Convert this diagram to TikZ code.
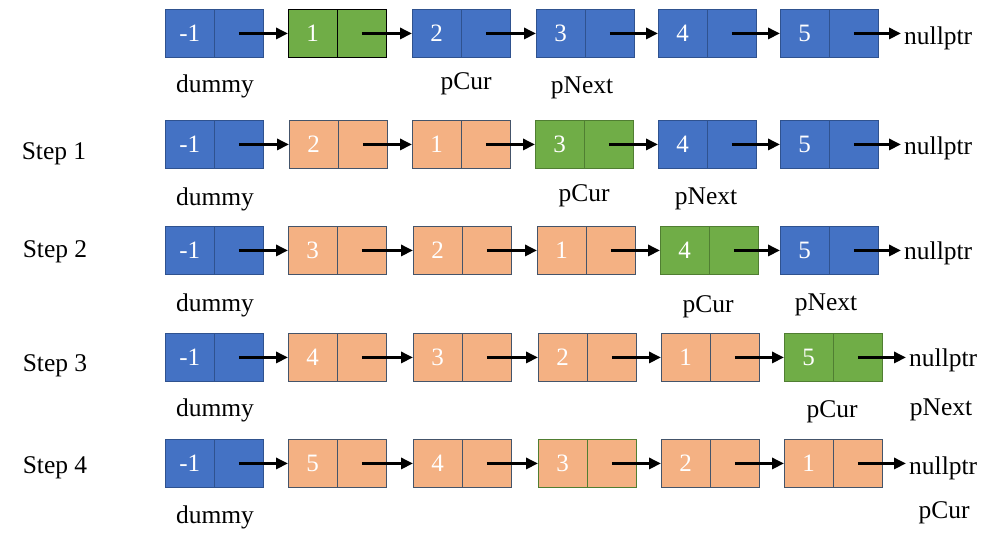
\documentclass[tikz,border=0pt]{standalone}
\usepackage{fontspec}
\setmainfont{Liberation Serif}
\usetikzlibrary{arrows.meta}
\definecolor{blu}{HTML}{4472C4}
\definecolor{bluB}{HTML}{2F528F}
\definecolor{org}{HTML}{F4B183}
\definecolor{orgB}{HTML}{44546A}
\definecolor{grn}{HTML}{70AD47}
\definecolor{grnB}{HTML}{507E32}
\tikzset{
  cell/.style={minimum width=48.5pt, minimum height=48pt, inner sep=0pt, line width=0.9pt,
    font=\fontsize{25}{29}\selectfont, text=white},
  bluecell/.style={cell, fill=blu, draw=bluB},
  orgcell/.style={cell, fill=org, draw=orgB},
  grncell/.style={cell, fill=grn, draw=grnB},
  grnblk/.style={cell, fill=grn, draw=black},
  orggrn/.style={cell, fill=org, draw=grnB},
  lbl/.style={font=\fontsize{25.5}{29}\selectfont, inner sep=0pt, yshift=-3pt},
  nul/.style={lbl, anchor=west, inner xsep=3pt},
  arr/.style={line width=3.3pt, -{Triangle[length=12pt,width=11pt]}},
}
\newcommand\lnode[5]{%
  \node[#4, anchor=north west] (#1a) at (#2,#3) {#5};
  \node[#4, anchor=north west] (#1b) at (#1a.north east) {};
}
\newcommand\lnk[2]{\draw[arr] ([xshift=-25pt]#1b.east) -- (#2a.west);}
\newcommand\lnul[2]{\draw[arr] ([xshift=-25pt]#1b.east) -- (#1b.east -| #2.west);}
\begin{document}
\begin{tikzpicture}[x=1pt,y=-1pt]
\useasboundingbox (0,0) rectangle (1008,533);
% Row 0
\lnode{a1}{165}{9}{bluecell}{-1}
\lnode{a2}{288}{9}{grnblk}{1}
\lnode{a3}{412}{9}{bluecell}{2}
\lnode{a4}{536}{9}{bluecell}{3}
\lnode{a5}{658}{9}{bluecell}{4}
\lnode{a6}{780}{9}{bluecell}{5}
\node[nul] (an) at (901,35) {nullptr};
\lnk{a1}{a2}\lnk{a2}{a3}\lnk{a3}{a4}\lnk{a4}{a5}\lnk{a5}{a6}
\lnul{a6}{an}
\node[lbl] (ad) at (215,83) {dummy};
\node[lbl] (ac) at (466,81) {pCur};
\node[lbl] (ap) at (582,85) {pNext};
% Row 1
\node[lbl] (bs) at (54,151) {Step 1};
\lnode{b1}{165}{120}{bluecell}{-1}
\lnode{b2}{289}{120}{orgcell}{2}
\lnode{b3}{412}{120}{orgcell}{1}
\lnode{b4}{535}{120}{grncell}{3}
\lnode{b5}{658}{120}{bluecell}{4}
\lnode{b6}{780}{120}{bluecell}{5}
\node[nul] (bn) at (901,145) {nullptr};
\lnk{b1}{b2}\lnk{b2}{b3}\lnk{b3}{b4}\lnk{b4}{b5}\lnk{b5}{b6}
\lnul{b6}{bn}
\node[lbl] (bd) at (215,196) {dummy};
\node[lbl] (bc) at (584,193) {pCur};
\node[lbl] (bp) at (706,196) {pNext};
% Row 2
\node[lbl] (cs) at (55,249) {Step 2};
\lnode{c1}{165}{226}{bluecell}{-1}
\lnode{c2}{288}{226}{orgcell}{3}
\lnode{c3}{413}{226}{orgcell}{2}
\lnode{c4}{537}{226}{orgcell}{1}
\lnode{c5}{660}{226}{grncell}{4}
\lnode{c6}{780}{226}{bluecell}{5}
\node[nul] (cn) at (901,250) {nullptr};
\lnk{c1}{c2}\lnk{c2}{c3}\lnk{c3}{c4}\lnk{c4}{c5}\lnk{c5}{c6}
\lnul{c6}{cn}
\node[lbl] (cd) at (215,302) {dummy};
\node[lbl] (cc) at (708,304) {pCur};
\node[lbl] (cp) at (826,302) {pNext};
% Row 3
\node[lbl] (ds) at (55,363) {Step 3};
\lnode{d1}{165}{333}{bluecell}{-1}
\lnode{d2}{288}{333}{orgcell}{4}
\lnode{d3}{413}{333}{orgcell}{3}
\lnode{d4}{538}{333}{orgcell}{2}
\lnode{d5}{661}{333}{orgcell}{1}
\lnode{d6}{784}{333}{grncell}{5}
\node[nul] (dn) at (906,357) {nullptr};
\lnk{d1}{d2}\lnk{d2}{d3}\lnk{d3}{d4}\lnk{d4}{d5}\lnk{d5}{d6}
\lnul{d6}{dn}
\node[lbl] (dd) at (215,407) {dummy};
\node[lbl] (dc) at (832,409) {pCur};
\node[lbl] (dp) at (941,407) {pNext};
% Row 4
\node[lbl] (es) at (55,465) {Step 4};
\lnode{e1}{165}{439}{bluecell}{-1}
\lnode{e2}{288}{439}{orgcell}{5}
\lnode{e3}{413}{439}{orgcell}{4}
\lnode{e4}{538}{439}{orggrn}{3}
\lnode{e5}{661}{439}{orgcell}{2}
\lnode{e6}{784}{439}{orgcell}{1}
\node[nul] (en) at (906,465) {nullptr};
\lnk{e1}{e2}\lnk{e2}{e3}\lnk{e3}{e4}\lnk{e4}{e5}\lnk{e5}{e6}
\lnul{e6}{en}
\node[lbl] (ed) at (215,514) {dummy};
\node[lbl] (ec) at (944,510) {pCur};
\end{tikzpicture}
\end{document}
